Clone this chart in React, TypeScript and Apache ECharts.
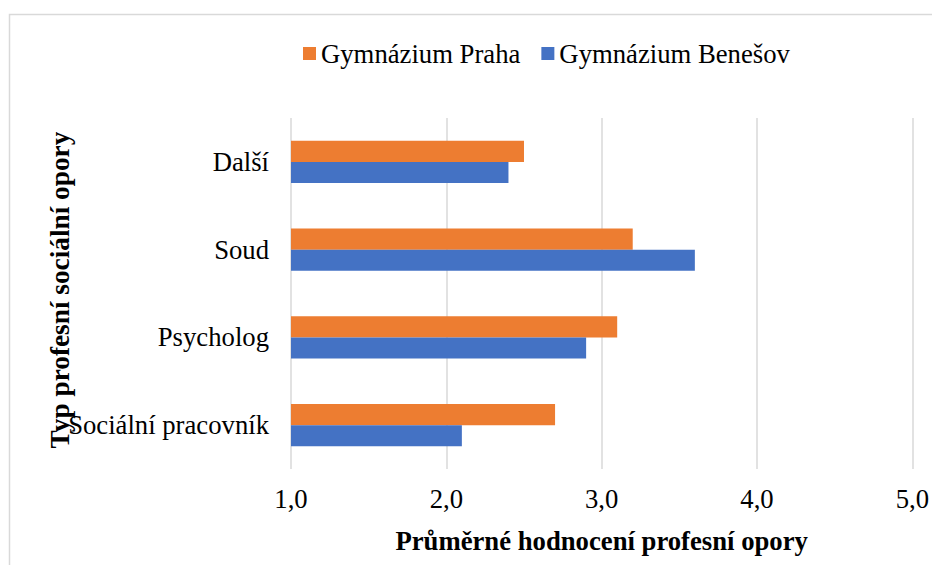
import React, { useEffect, useRef } from "react";
import * as echarts from "echarts";

const categories = ["Sociální pracovník", "Psycholog", "Soud", "Další"];
const prahaValues = [2.7, 3.1, 3.2, 2.5];
const benesovValues = [2.1, 2.9, 3.6, 2.4];
const seriesNames = ["Gymnázium Praha", "Gymnázium Benešov"];
const xTitle = "Průměrné hodnocení profesní opory";
const yTitle = "Typ profesní sociální opory";

const FONT = "Liberation Serif";

export default function App() {
  const ref = useRef<HTMLDivElement>(null);
  useEffect(() => {
    document.body.style.margin = "0";
    const chart = echarts.init(ref.current!, null, { renderer: "svg" });
    chart.setOption({
      animation: false,
      textStyle: { fontFamily: FONT },
      color: ["#ED7D31", "#4472C4"],
      legend: {
        data: seriesNames,
        left: 298,
        top: 35,
        itemWidth: 13,
        itemHeight: 13,
        itemGap: 21,
        icon: "rect",
        textStyle: { fontFamily: FONT, fontSize: 26.7, color: "#000" },
      },
      grid: { left: 291, right: 18, top: 118, bottom: 96, containLabel: false },
      xAxis: {
        type: "value",
        min: 1,
        max: 5,
        interval: 1,
        axisLine: { show: false },
        axisTick: { show: false },
        splitLine: { show: true, lineStyle: { color: "#d9d9d9", width: 1.5 } },
        axisLabel: {
          fontFamily: FONT,
          fontSize: 26.7,
          color: "#000",
          margin: 16,
          formatter: (v: number) => v.toFixed(1).replace(".", ","),
        },
        name: xTitle,
        nameLocation: "middle",
        nameGap: 58,
        nameTextStyle: { fontFamily: FONT, fontSize: 26.7, fontWeight: "bold", color: "#000" },
      },
      yAxis: {
        type: "category",
        data: categories,
        axisLine: { show: false },
        axisTick: { show: false },
        axisLabel: { fontFamily: FONT, fontSize: 26.7, color: "#000", margin: 22 },
      },
      graphic: [
        {
          type: "rect",
          shape: { x: 9.5, y: 14.5, width: 940, height: 570 },
          style: { fill: "none", stroke: "#d9d9d9", lineWidth: 1.5 },
          silent: true,
        },
        {
          type: "text",
          x: 60,
          y: 290,
          rotation: Math.PI / 2,
          style: {
            text: yTitle,
            fontFamily: FONT,
            fontSize: 27.3,
            fontWeight: "bold",
            fill: "#000",
            align: "center",
            verticalAlign: "middle",
          },
        },
      ],
      series: [
        {
          name: seriesNames[0],
          type: "bar",
          data: prahaValues,
          barGap: "0%",
          barCategoryGap: "52%",
        },
        {
          name: seriesNames[1],
          type: "bar",
          data: benesovValues,
          barGap: "0%",
          barCategoryGap: "52%",
        },
      ],
    });
    return () => chart.dispose();
  }, []);
  return <div ref={ref} style={{ width: 932, height: 565 }} />;
}
